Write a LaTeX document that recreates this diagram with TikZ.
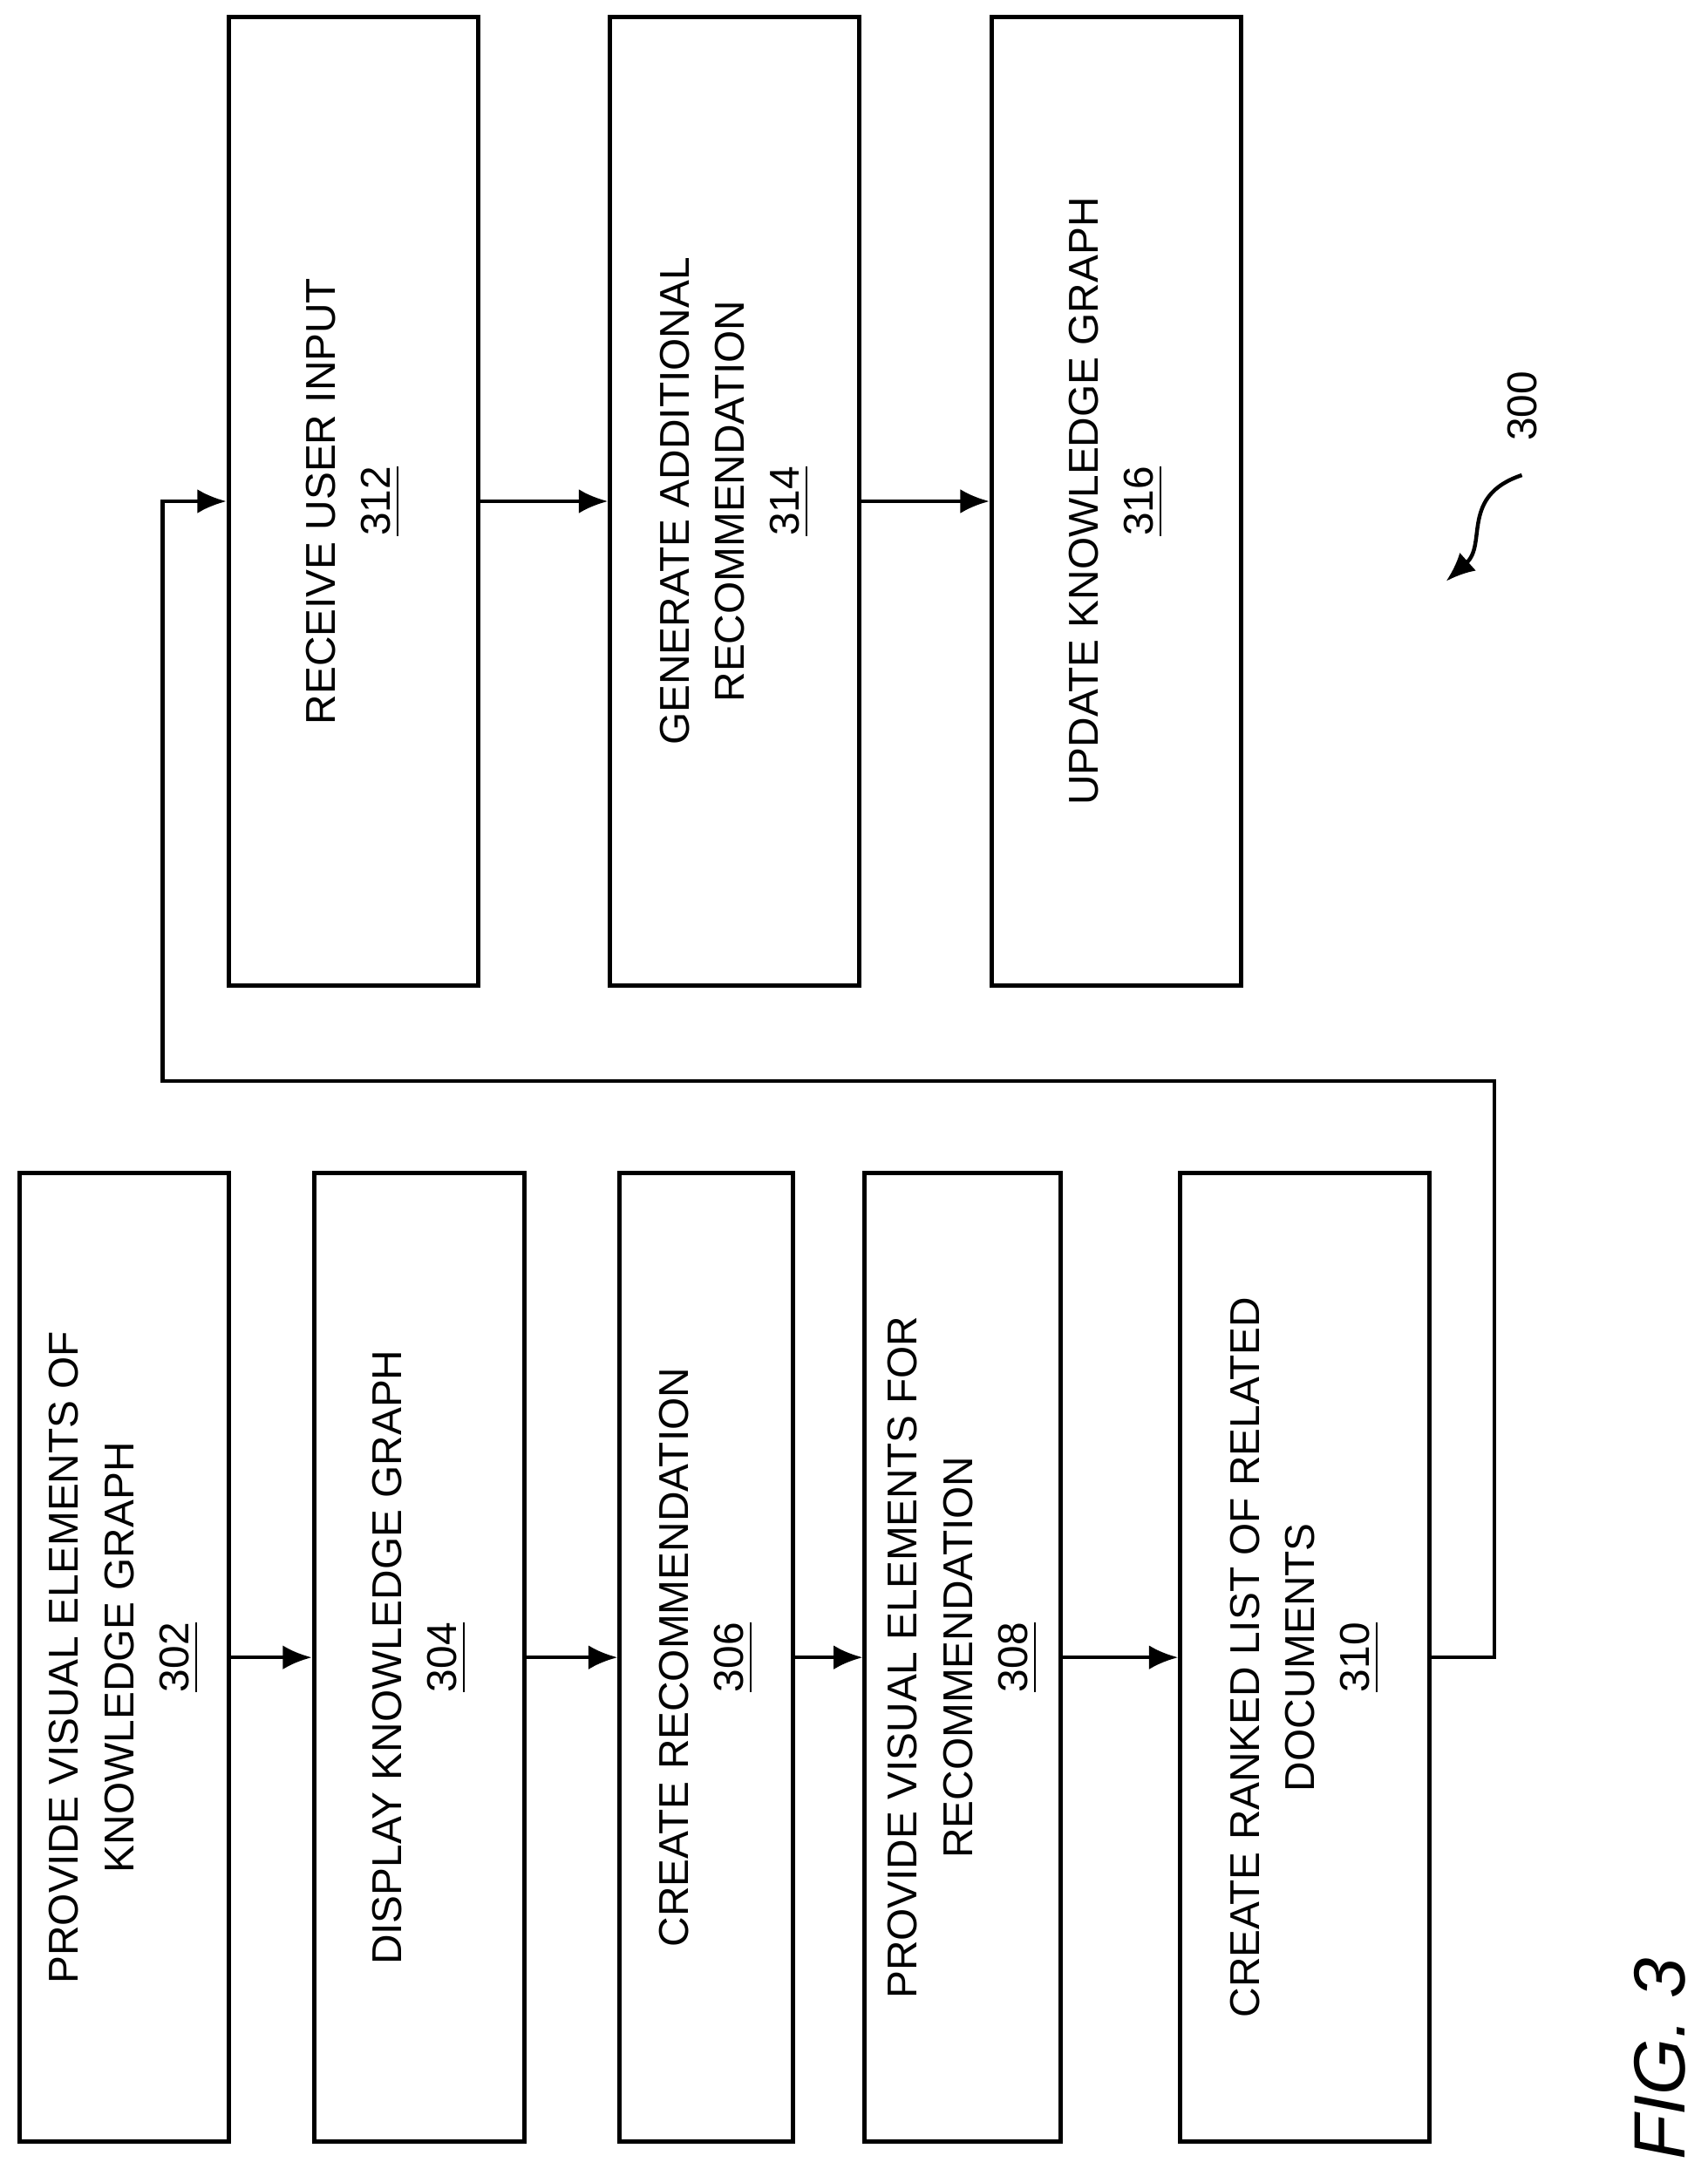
\documentclass[tikz,border=0pt]{standalone}
\usepackage{fontspec}
\setmainfont{Liberation Sans}
\usetikzlibrary{arrows.meta, positioning, calc}

\tikzset{
  step/.style={draw, line width=0.9pt, minimum width=#1, minimum height=7.03cm, inner sep=0pt},
  steptext/.style={rotate=90, align=center, font=\fontsize{8.6pt}{11.4pt}\selectfont},
  flow/.style={-{Latex[length=6pt,width=5pt]}, line width=0.8pt}
}

\begin{document}
\begin{tikzpicture}[x=0.01cm, y=-0.01cm]
  \useasboundingbox (0,0) rectangle (1240,1575);

  % Bottom row of steps
  \node[step=1.52cm] (s302) at (90,1203.5) {};
  \node[step=1.53cm] (s304) at (304.5,1203.5) {};
  \node[step=1.26cm] (s306) at (513,1203.5) {};
  \node[step=1.42cm] (s308) at (699,1203.5) {};
  \node[step=1.81cm] (s310) at (947.5,1203.5) {};

  % Top row of steps
  \node[step=1.81cm] (s312) at (256.5,364) {};
  \node[step=1.81cm] (s314) at (533.5,364) {};
  \node[step=1.81cm] (s316) at (810.5,364) {};

  % Labels
  \node[steptext] at (s302) {PROVIDE VISUAL ELEMENTS OF\\KNOWLEDGE GRAPH\\\underline{302}};
  \node[steptext] at (s304) {DISPLAY KNOWLEDGE GRAPH\\\underline{304}};
  \node[steptext] at (s306) {CREATE RECOMMENDATION\\\underline{306}};
  \node[steptext] at (s308) {PROVIDE VISUAL ELEMENTS FOR\\RECOMMENDATION\\\underline{308}};
  \node[steptext] at (s310) {CREATE RANKED LIST OF RELATED\\DOCUMENTS\\\underline{310}};
  \node[steptext] at (s312) {RECEIVE USER INPUT\\\underline{312}};
  \node[steptext] at (s314) {GENERATE ADDITIONAL\\RECOMMENDATION\\\underline{314}};
  \node[steptext] at (s316) {UPDATE KNOWLEDGE GRAPH\\\underline{316}};

  % Connectors
  \draw[flow] (s302) -- (s304);
  \draw[flow] (s304) -- (s306);
  \draw[flow] (s306) -- (s308);
  \draw[flow] (s308) -- (s310);
  \draw[flow] (s312) -- (s314);
  \draw[flow] (s314) -- (s316);
  \draw[flow] (s310.east) -| (1085,785) -| (118,364) -- (s312.west);

  % Reference numeral and figure label
  \node[rotate=90, font=\fontsize{8.6pt}{10pt}\selectfont] (n300) at (1105,295) {300};
  \coordinate (c300) at (1105,345);
  \draw[flow] (c300) .. controls (1060,360) and (1080,395) .. (1050,422);
  \node[rotate=90, font=\fontsize{15pt}{18pt}\selectfont\itshape] (fig) at (1205,1495) {FIG. 3};
\end{tikzpicture}
\end{document}
